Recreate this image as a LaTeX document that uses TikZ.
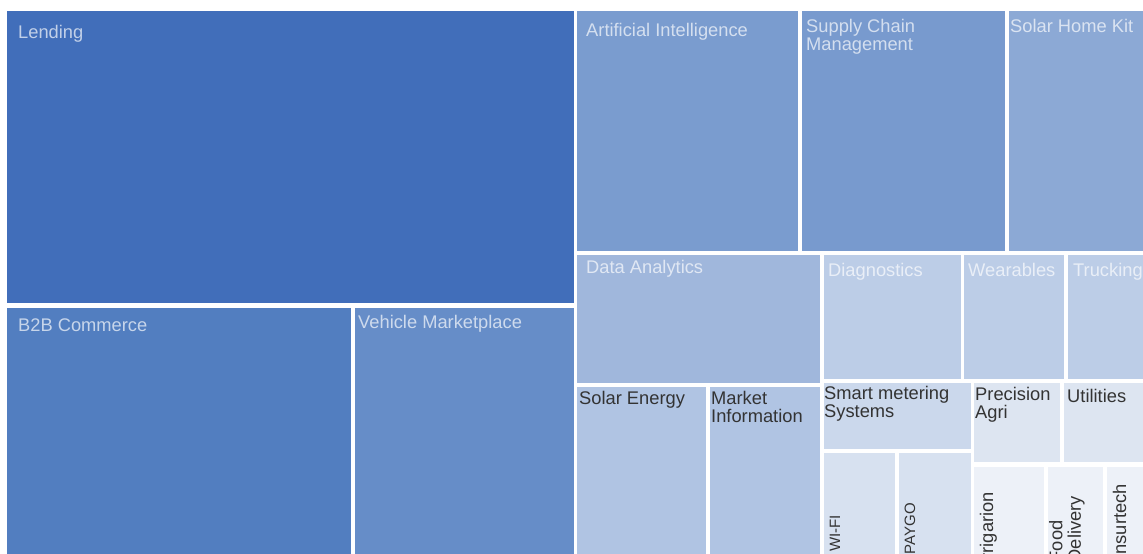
\documentclass[tikz,border=0pt]{standalone}
\usepackage{fontspec}
\setmainfont{Liberation Sans}

\definecolor{lendblue}{HTML}{416EBA}
\definecolor{b2bblue}{HTML}{527EC0}
\definecolor{vehblue}{HTML}{668DC8}
\definecolor{aiblue}{HTML}{7A9CCF}
\definecolor{supblue}{HTML}{789ACE}
\definecolor{shkblue}{HTML}{8CA9D5}
\definecolor{dablue}{HTML}{A0B7DC}
\definecolor{diagblue}{HTML}{BCCDE7}
\definecolor{seblue}{HTML}{B0C4E3}
\definecolor{smblue}{HTML}{CBD8EC}
\definecolor{wifiblue}{HTML}{D7E1F0}
\definecolor{pablue}{HTML}{DDE5F1}
\definecolor{irrblue}{HTML}{EDF1F8}
\definecolor{labelgrey}{HTML}{333333}

\begin{document}
\begin{tikzpicture}[x = 1pt, y = -1pt,
  lightlbl/.style = {anchor = base west, inner sep = 0, text = white, text opacity = 0.68, font = \fontsize{18.3}{18.5}\selectfont},
  darklbl/.style = {anchor = base west, inner sep = 0, text = labelgrey, font = \fontsize{18.3}{18.5}\selectfont},
  uplbl/.style = {darklbl, anchor = base east, rotate = 90},
  smalluplbl/.style = {uplbl, font = \fontsize{15}{16}\selectfont}]
\useasboundingbox (0, 0) rectangle (1143, 554);
\clip (0, 0) rectangle (1143, 554);

% left half
\fill[lendblue] (7, 11) rectangle (574, 303);
\fill[b2bblue] (7, 308) rectangle (351, 560);
\fill[vehblue] (355, 308) rectangle (574, 560);

% right half, top row
\fill[aiblue] (577, 11) rectangle (798, 251);
\fill[supblue] (802, 11) rectangle (1005, 251);
\fill[shkblue] (1009, 11) rectangle (1150, 251);

% middle row
\fill[dablue] (577, 255) rectangle (820, 383);
\fill[diagblue] (824, 255) rectangle (961, 379);
\fill[diagblue] (964, 255) rectangle (1064, 379);
\fill[diagblue] (1068, 255) rectangle (1150, 379);

% bottom rows
\fill[seblue] (577, 387) rectangle (706, 560);
\fill[seblue] (710, 387) rectangle (820, 560);
\fill[smblue] (824, 383) rectangle (971, 449);
\fill[wifiblue] (824, 453) rectangle (895, 560);
\fill[wifiblue] (899, 453) rectangle (971, 560);
\fill[pablue] (974, 383) rectangle (1060, 462);
\fill[pablue] (1064, 383) rectangle (1150, 462);
\fill[irrblue] (974, 467) rectangle (1044, 560);
\fill[irrblue] (1048, 467) rectangle (1103, 560);
\fill[irrblue] (1107, 467) rectangle (1150, 560);

% labels
\node[lightlbl] (lending) at (18, 38) {Lending};
\node[lightlbl] (b2b) at (18, 331) {B2B Commerce};
\node[lightlbl] (vehicle) at (358, 328) {Vehicle Marketplace};
\node[lightlbl] (ai) at (586, 36) {Artificial Intelligence};
\node[lightlbl, anchor = north west, align = left] (supply) at (806, 19) {Supply Chain\\Management};
\node[lightlbl] (solarkit) at (1010, 32) {Solar Home Kit};
\node[lightlbl] (data) at (586, 273) {Data Analytics};
\node[lightlbl] (diag) at (828, 276) {Diagnostics};
\node[lightlbl] (wear) at (968, 276) {Wearables};
\node[lightlbl] (truck) at (1073, 276) {Trucking};

\node[darklbl] (solarenergy) at (579, 404) {Solar Energy};
\node[darklbl, anchor = north west, align = left] (market) at (711, 391) {Market\\Information};
\node[darklbl, anchor = north west, align = left] (smart) at (824, 386) {Smart metering\\Systems};
\node[darklbl, anchor = north west, align = left] (precision) at (975, 387) {Precision\\Agri};
\node[darklbl] (utilities) at (1067, 402) {Utilities};

\node[smalluplbl] (wifi) at (840, 515) {WI-FI};
\node[smalluplbl] (paygo) at (915, 503) {PAYGO};
\node[uplbl] (irrigation) at (993, 492) {Irrigarion};
\node[uplbl, anchor = north east, align = left] (food) at (1049, 496) {Food\\Delivery};
\node[uplbl] (insurtech) at (1126, 484) {Insurtech};
\end{tikzpicture}
\end{document}
